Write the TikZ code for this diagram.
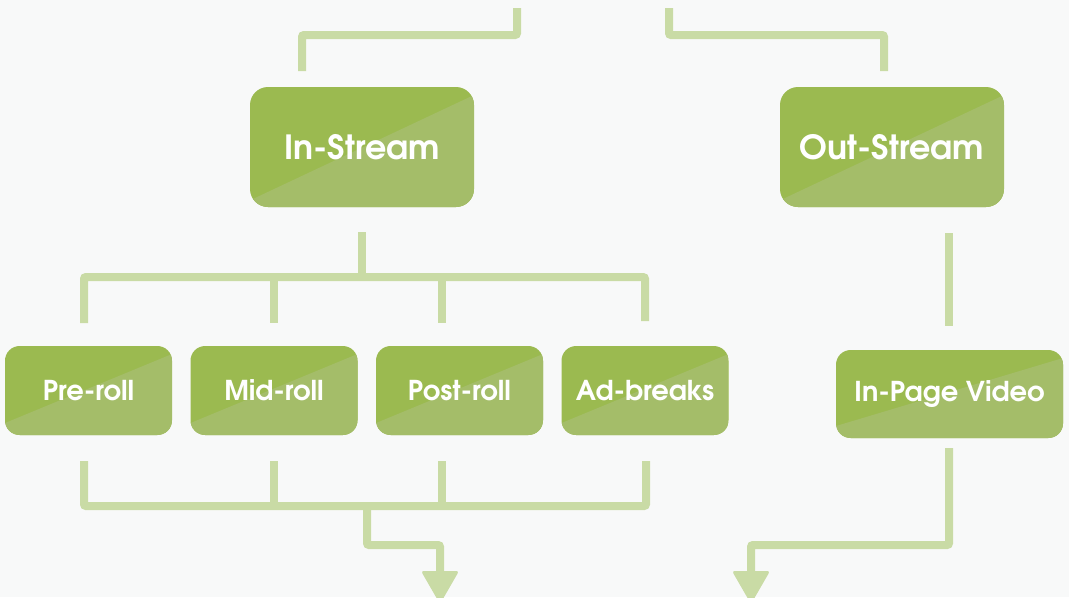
\documentclass[tikz,border=0pt]{standalone}
\usepackage{fontspec}
\newfontfamily\boxfont{texgyreadventor-bold.otf}
\usetikzlibrary{calc}
\definecolor{bgcol}{HTML}{F8F9F9}
\definecolor{gdark}{HTML}{9BBA50}
\definecolor{glight}{HTML}{A4BD69}
\definecolor{conncol}{HTML}{C9DBA5}
\begin{document}
\begin{tikzpicture}[x=0.75pt,y=-0.75pt,
  boxbase/.style={fill=gdark, text=white, inner sep=0pt},
  bigbox/.style={boxbase, rounded corners=13.5pt, minimum width=168pt, minimum height=90pt,
    font=\boxfont\fontsize{25}{28}\selectfont,
    path picture={\fill[glight,sharp corners] (path picture bounding box.south west) -- ([yshift=5pt]path picture bounding box.south west) -- ([yshift=-6pt]path picture bounding box.north east) -- (path picture bounding box.south east) -- cycle;}},
  smallbox/.style={boxbase, rounded corners=11pt, minimum width=125.25pt, minimum height=66.75pt,
    font=\boxfont\fontsize{20.5}{23}\selectfont,
    path picture={\fill[glight,sharp corners] (path picture bounding box.south west) -- ([yshift=9pt]path picture bounding box.south west) -- ([yshift=-6pt]path picture bounding box.north east) -- (path picture bounding box.south east) -- cycle;}},
  conn/.style={draw=conncol, line width=6pt, rounded corners=1.5pt},
  arrowhead/.style={fill=conncol, rounded corners=2pt},
]
\fill[bgcol] (0,0) rectangle (1069,597);
\useasboundingbox (0,0) rectangle (1069,597);
\clip (0,0) rectangle (1069,597);

% boxes
\node[bigbox] (instream) at (362,147) {In-Stream};
\node[bigbox] (outstream) at (892,147) {Out-Stream};
\node[smallbox] (preroll) at (88.5,390.5) {Pre-roll};
\node[smallbox] (midroll) at (274,390.5) {Mid-roll};
\node[smallbox] (postroll) at (459.5,390.5) {Post-roll};
\node[smallbox] (adbreaks) at (645,390.5) {Ad-breaks};
\node[smallbox, minimum width=170.25pt, minimum height=66pt] (inpage) at (949.5,394) {In-Page Video};

% connector points
\coordinate (tl0) at (517,8);
\coordinate (tl1) at (517,35);
\coordinate (tl2) at (302,35);
\coordinate (tl3) at (302,71);
\coordinate (tr0) at (669,8);
\coordinate (tr1) at (669,35);
\coordinate (tr2) at (884,35);
\coordinate (tr3) at (884,71);

\coordinate (is0) at (362,232);
\coordinate (is1) at (362,277);
\coordinate (hA) at (84,277);
\coordinate (hB) at (274,277);
\coordinate (hC) at (442,277);
\coordinate (hD) at (645,277);
\coordinate (dA) at (84,323);
\coordinate (dB) at (274,323);
\coordinate (dC) at (442,323);
\coordinate (dD) at (645,321);

\coordinate (uA) at (84,461);
\coordinate (uB) at (274,461);
\coordinate (uC) at (442,461);
\coordinate (uD) at (646,461);
\coordinate (bA) at (84,506);
\coordinate (bB) at (274,506);
\coordinate (bC) at (442,506);
\coordinate (bD) at (646,506);
\coordinate (m0) at (367,506);
\coordinate (m1) at (367,545);
\coordinate (m2) at (440,545);
\coordinate (arrL) at (440,572);

\coordinate (os0) at (949,233);
\coordinate (os1) at (949,326);
\coordinate (ip0) at (949,448);
\coordinate (ip1) at (949,545);
\coordinate (ip2) at (751,545);
\coordinate (arrR) at (751,572);

% connectors
\draw[conn] (tl0) -- (tl1) -- (tl2) -- (tl3);
\draw[conn] (tr0) -- (tr1) -- (tr2) -- (tr3);
\draw[conn] (is0) -- (is1);
\draw[conn] (dA) -- (hA) -- (hD) -- (dD);
\draw[conn] (hB) -- (dB);
\draw[conn] (hC) -- (dC);
\draw[conn] (uA) -- (bA) -- (bD) -- (uD);
\draw[conn] (uB) -- (bB);
\draw[conn] (uC) -- (bC);
\draw[conn] (m0) -- (m1) -- (m2) -- (arrL);
\draw[conn] (os0) -- (os1);
\draw[conn] (ip0) -- (ip1) -- (ip2) -- (arrR);
\fill[arrowhead] ($(arrL)+(-19,-1)$) -- ($(arrL)+(19,-1)$) -- ($(arrL)+(0,32)$) -- cycle;
\fill[arrowhead] ($(arrR)+(-19,-1)$) -- ($(arrR)+(19,-1)$) -- ($(arrR)+(0,32)$) -- cycle;
\end{tikzpicture}
\end{document}
